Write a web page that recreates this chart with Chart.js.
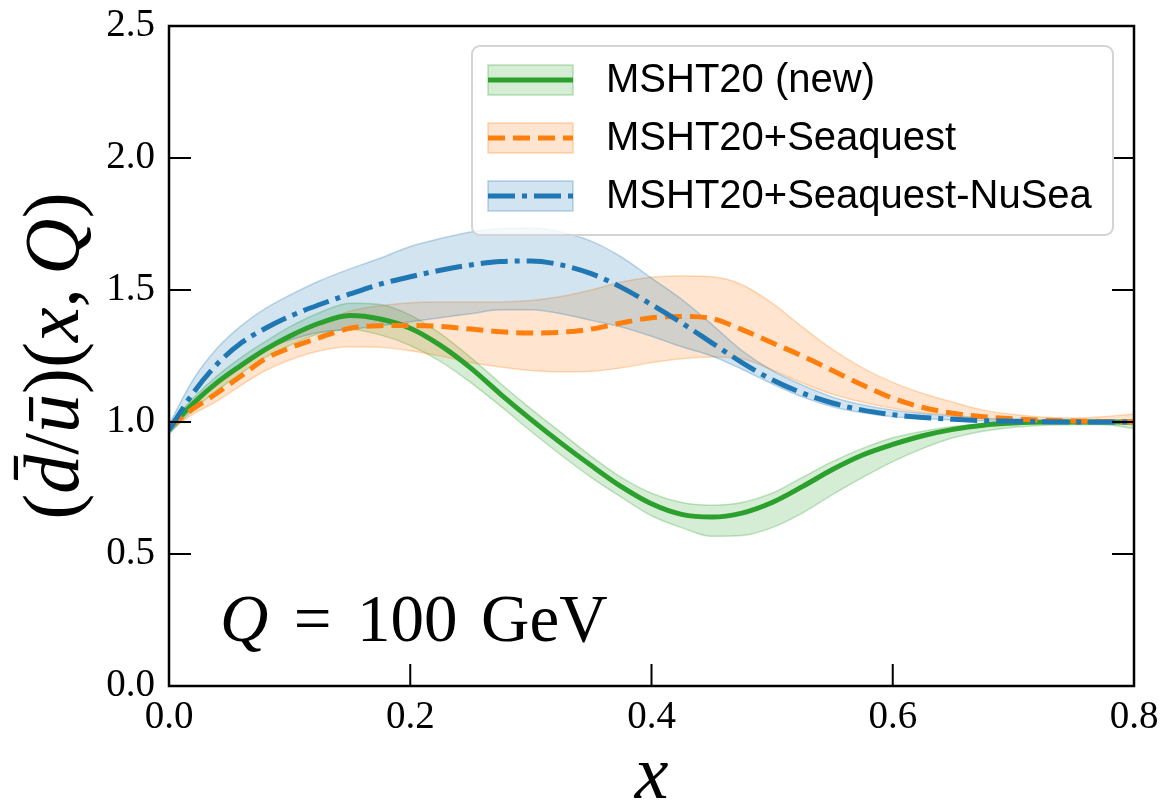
<!DOCTYPE html>
<html>
<head>
<meta charset="utf-8">
<script src="https://cdn.jsdelivr.net/npm/chart.js@4.4.1/dist/chart.umd.min.js"></script>
<style>
  html, body { margin: 0; padding: 0; background: #fff; }
  canvas { display: block; }
</style>
</head>
<body>
<canvas id="pdfRatio" width="1165" height="804"></canvas>
<script>
// d-bar / u-bar ratio at Q = 100 GeV, three fits with error bands

const xs = [0, 0.02, 0.04, 0.06, 0.08, 0.10, 0.125, 0.15, 0.175, 0.2, 0.225, 0.25, 0.275, 0.3,
  0.325, 0.35, 0.375, 0.4, 0.425, 0.45, 0.475, 0.5, 0.525, 0.55, 0.575, 0.6, 0.625, 0.65,
  0.675, 0.7, 0.725, 0.75, 0.775, 0.8];

// MSHT20 (new)
const mshtCentral = [0.975, 1.07, 1.15, 1.215, 1.275, 1.325, 1.375, 1.403, 1.39, 1.355, 1.29, 1.205, 1.105, 1.01,
  0.92, 0.835, 0.755, 0.69, 0.65, 0.64, 0.655, 0.695, 0.755, 0.82, 0.875, 0.915, 0.948, 0.972,
  0.988, 0.996, 1.0, 1.0, 1.0, 1.0];
const mshtUpper = [0.99, 1.09, 1.175, 1.245, 1.305, 1.36, 1.415, 1.45, 1.445, 1.405, 1.335, 1.245, 1.145, 1.05,
  0.96, 0.87, 0.79, 0.73, 0.695, 0.685, 0.695, 0.73, 0.79, 0.85, 0.9, 0.94, 0.965, 0.983,
  0.993, 1.0, 1.002, 1.003, 1.004, 1.005];
const mshtLower = [0.955, 1.045, 1.12, 1.185, 1.245, 1.29, 1.335, 1.35, 1.33, 1.29, 1.23, 1.15, 1.06, 0.965,
  0.875, 0.79, 0.715, 0.645, 0.6, 0.567, 0.57, 0.6, 0.655, 0.725, 0.79, 0.85, 0.9, 0.94,
  0.965, 0.98, 0.988, 0.99, 0.99, 0.975];

// MSHT20+Seaquest
const sqCentral = [0.98, 1.05, 1.11, 1.175, 1.24, 1.28, 1.32, 1.355, 1.365, 1.366, 1.362, 1.352, 1.342, 1.337,
  1.34, 1.352, 1.375, 1.395, 1.40, 1.392, 1.35, 1.30, 1.25, 1.195, 1.14, 1.09, 1.055, 1.033,
  1.02, 1.012, 1.007, 1.004, 1.002, 1.0];
const sqUpper = [0.995, 1.075, 1.14, 1.205, 1.27, 1.32, 1.375, 1.42, 1.44, 1.452, 1.455, 1.455, 1.455, 1.46,
  1.475, 1.50, 1.53, 1.548, 1.553, 1.55, 1.52, 1.45, 1.36, 1.275, 1.205, 1.15, 1.108, 1.075,
  1.045, 1.028, 1.018, 1.015, 1.02, 1.03];
const sqLower = [0.965, 1.03, 1.08, 1.14, 1.195, 1.235, 1.27, 1.285, 1.283, 1.27, 1.25, 1.225, 1.208, 1.195,
  1.19, 1.192, 1.205, 1.225, 1.24, 1.246, 1.24, 1.197, 1.148, 1.105, 1.075, 1.052, 1.036, 1.025,
  1.015, 1.008, 1.004, 1.0, 0.998, 0.99];

// MSHT20+Seaquest-NuSea
const nuCentral = [0.97, 1.11, 1.22, 1.30, 1.355, 1.40, 1.445, 1.485, 1.522, 1.55, 1.575, 1.595, 1.608, 1.61,
  1.595, 1.562, 1.51, 1.445, 1.375, 1.30, 1.225, 1.16, 1.11, 1.072, 1.045, 1.028, 1.017, 1.01,
  1.005, 1.003, 1.001, 1.0, 1.0, 1.0];
const nuUpper = [0.99, 1.16, 1.28, 1.365, 1.43, 1.48, 1.535, 1.58, 1.62, 1.665, 1.695, 1.72, 1.733, 1.735,
  1.72, 1.685, 1.625, 1.545, 1.465, 1.37, 1.27, 1.195, 1.14, 1.095, 1.065, 1.045, 1.032, 1.022,
  1.013, 1.008, 1.004, 1.002, 1.001, 1.0];
const nuLower = [0.955, 1.06, 1.155, 1.225, 1.275, 1.31, 1.34, 1.35, 1.365, 1.38, 1.395, 1.41, 1.425, 1.425,
  1.41, 1.385, 1.36, 1.325, 1.285, 1.25, 1.20, 1.145, 1.095, 1.058, 1.035, 1.02, 1.013, 1.008,
  1.004, 1.002, 1.0, 1.0, 1.0, 1.0];

const seriesNames = ['MSHT20 (new)', 'MSHT20+Seaquest', 'MSHT20+Seaquest-NuSea'];
const xTicks = [0, 0.2, 0.4, 0.6, 0.8];
const yTicks = [0, 0.5, 1.0, 1.5, 2.0, 2.5];

const SERIF = '"Liberation Serif", "Times New Roman", serif';
const SANS = '"Liberation Sans", Arial, sans-serif';

const GREEN = '#2ca02c', ORANGE = '#ff7f0e', BLUE = '#1f77b4';
const GREEN_RGB = '44,160,44', ORANGE_RGB = '255,127,14', BLUE_RGB = '31,119,180';
const DASHED = [17, 8];
const DASH_DOT = [27, 7, 5, 7];

function pts(ys) {
  return xs.map((x, i) => ({ x: x, y: ys[i] }));
}

function lineSet(label, ys, color, dash) {
  return {
    label: label,
    data: pts(ys),
    borderColor: color,
    borderWidth: 5,
    borderDash: dash,
    borderCapStyle: 'butt',
    pointRadius: 0,
    fill: false,
    cubicInterpolationMode: 'monotone'
  };
}

function bandSet(ys, rgb, target) {
  return {
    data: pts(ys),
    borderColor: 'rgba(' + rgb + ',0.28)',
    borderWidth: 1.5,
    backgroundColor: 'rgba(' + rgb + ',0.2)',
    pointRadius: 0,
    fill: target === undefined ? false : { target: target },
    cubicInterpolationMode: 'monotone'
  };
}

// draws a run of text pieces: [text, italic] or a number (gap in em)
function runWidth(ctx, parts, size) {
  let w = 0;
  parts.forEach(p => {
    if (typeof p === 'number') { w += p * size; return; }
    ctx.font = (p[1] ? 'italic ' : '') + size + 'px ' + SERIF;
    w += ctx.measureText(p[0]).width;
  });
  return w;
}

function drawRun(ctx, parts, size, x, y) {
  parts.forEach(p => {
    if (typeof p === 'number') { x += p * size; return; }
    ctx.font = (p[1] ? 'italic ' : '') + size + 'px ' + SERIF;
    ctx.fillText(p[0], x, y);
    x += ctx.measureText(p[0]).width;
  });
}

const yTitleParts = [['(', false], ['d\u0304', true], ['/', false], ['\u016B', true], [')(', false],
  ['x', true], [',', false], 0.17, ['Q', true], [')', false]];
const annotParts = [['Q', true], 0.38, ['=', false], 0.38, ['100', false], 0.35, ['GeV', false]];

const framePlugin = {
  id: 'frame',
  afterDatasetsDraw(chart) {
    const ctx = chart.ctx;
    const a = chart.chartArea;
    const xs_ = chart.scales.x, ys_ = chart.scales.y;
    const tl = 22;
    ctx.save();
    ctx.strokeStyle = '#000';
    ctx.lineWidth = 2;
    ctx.beginPath();
    xs_.ticks.forEach(t => {
      const px = xs_.getPixelForValue(t.value);
      ctx.moveTo(px, a.bottom);
      ctx.lineTo(px, a.bottom - tl);
    });
    ys_.ticks.forEach(t => {
      const py = ys_.getPixelForValue(t.value);
      ctx.moveTo(a.left, py);
      ctx.lineTo(a.left + tl, py);
      ctx.moveTo(a.right, py);
      ctx.lineTo(a.right - tl, py);
    });
    ctx.stroke();
    ctx.lineWidth = 2.5;
    ctx.strokeRect(a.left, a.top, a.right - a.left, a.bottom - a.top);
    ctx.restore();
  }
};

const textPlugin = {
  id: 'mathText',
  afterDraw(chart) {
    const ctx = chart.ctx;
    const a = chart.chartArea;
    ctx.save();
    ctx.fillStyle = '#000';

    // y axis title, rotated
    const ySize = 78;
    ctx.translate(57, (a.top + a.bottom) / 2);
    ctx.rotate(-Math.PI / 2);
    ctx.textBaseline = 'middle';
    const w = runWidth(ctx, yTitleParts, ySize);
    drawRun(ctx, yTitleParts, ySize, -w / 2, 0);
    ctx.setTransform(1, 0, 0, 1, 0, 0);

    // x axis title
    ctx.textBaseline = 'alphabetic';
    ctx.textAlign = 'center';
    ctx.font = 'italic 76px ' + SERIF;
    ctx.fillText('x', (a.left + a.right) / 2, 798);
    ctx.textAlign = 'left';

    // Q = 100 GeV
    drawRun(ctx, annotParts, 67, a.left + 51, a.bottom - 45);
    ctx.restore();
  }
};

const legendPlugin = {
  id: 'insideLegend',
  afterDraw(chart) {
    const ctx = chart.ctx;
    const a = chart.chartArea;
    const bw = 641, bh = 189;
    const bx = a.right - 21 - bw, by = a.top + 20;
    const entries = [
      { name: seriesNames[0], color: GREEN, rgb: GREEN_RGB, dash: [] },
      { name: seriesNames[1], color: ORANGE, rgb: ORANGE_RGB, dash: DASHED },
      { name: seriesNames[2], color: BLUE, rgb: BLUE_RGB, dash: DASH_DOT }
    ];
    ctx.save();
    ctx.beginPath();
    ctx.roundRect(bx, by, bw, bh, 8);
    ctx.fillStyle = 'rgba(255,255,255,0.8)';
    ctx.fill();
    ctx.strokeStyle = '#d4d4d4';
    ctx.lineWidth = 2;
    ctx.stroke();

    entries.forEach((e, i) => {
      const cy = by + 34 + i * 58;
      const hx = bx + 16, hw = 85, hh = 30;
      ctx.fillStyle = 'rgba(' + e.rgb + ',0.2)';
      ctx.fillRect(hx, cy - hh / 2, hw, hh);
      ctx.strokeStyle = 'rgba(' + e.rgb + ',0.3)';
      ctx.lineWidth = 1.5;
      ctx.strokeRect(hx, cy - hh / 2, hw, hh);
      ctx.beginPath();
      ctx.setLineDash(e.dash);
      ctx.lineCap = 'butt';
      ctx.strokeStyle = e.color;
      ctx.lineWidth = 5;
      ctx.moveTo(hx, cy);
      ctx.lineTo(hx + hw, cy);
      ctx.stroke();
      ctx.setLineDash([]);

      ctx.fillStyle = '#000';
      ctx.font = '40px ' + SANS;
      ctx.textBaseline = 'middle';
      ctx.fillText(e.name, bx + 134, cy + 1);
    });
    ctx.restore();
  }
};

const datasets = [
  lineSet(seriesNames[2], nuCentral, BLUE, DASH_DOT),
  lineSet(seriesNames[1], sqCentral, ORANGE, DASHED),
  lineSet(seriesNames[0], mshtCentral, GREEN, []),
  bandSet(nuUpper, BLUE_RGB, 4),
  bandSet(nuLower, BLUE_RGB),
  bandSet(sqUpper, ORANGE_RGB, 6),
  bandSet(sqLower, ORANGE_RGB),
  bandSet(mshtUpper, GREEN_RGB, 8),
  bandSet(mshtLower, GREEN_RGB)
];

new Chart(document.getElementById('pdfRatio').getContext('2d'), {
  type: 'line',
  data: { datasets: datasets },
  options: {
    responsive: false,
    animation: false,
    devicePixelRatio: 1,
    layout: { padding: { top: 26, right: 31, left: 0, bottom: 0 } },
    plugins: {
      legend: { display: false },
      tooltip: { enabled: false }
    },
    scales: {
      x: {
        type: 'linear',
        min: 0,
        max: 0.8,
        afterBuildTicks: s => { s.ticks = xTicks.map(v => ({ value: v })); },
        afterFit: s => { s.height = 118; s.paddingLeft = 0; s.paddingRight = 0; },
        grid: { display: false, drawTicks: false },
        border: { display: false },
        ticks: {
          color: '#000',
          padding: 8,
          maxRotation: 0,
          font: { family: SERIF, size: 39 },
          callback: v => v.toFixed(1)
        }
      },
      y: {
        type: 'linear',
        min: 0,
        max: 2.5,
        afterBuildTicks: s => { s.ticks = yTicks.map(v => ({ value: v })); },
        afterFit: s => { s.width = 169; s.paddingTop = 0; s.paddingBottom = 0; },
        grid: { display: false, drawTicks: false },
        border: { display: false },
        ticks: {
          color: '#000',
          padding: 14,
          font: { family: SERIF, size: 39 },
          callback: v => v.toFixed(1)
        }
      }
    }
  },
  plugins: [framePlugin, textPlugin, legendPlugin]
});
</script>
</body>
</html>
